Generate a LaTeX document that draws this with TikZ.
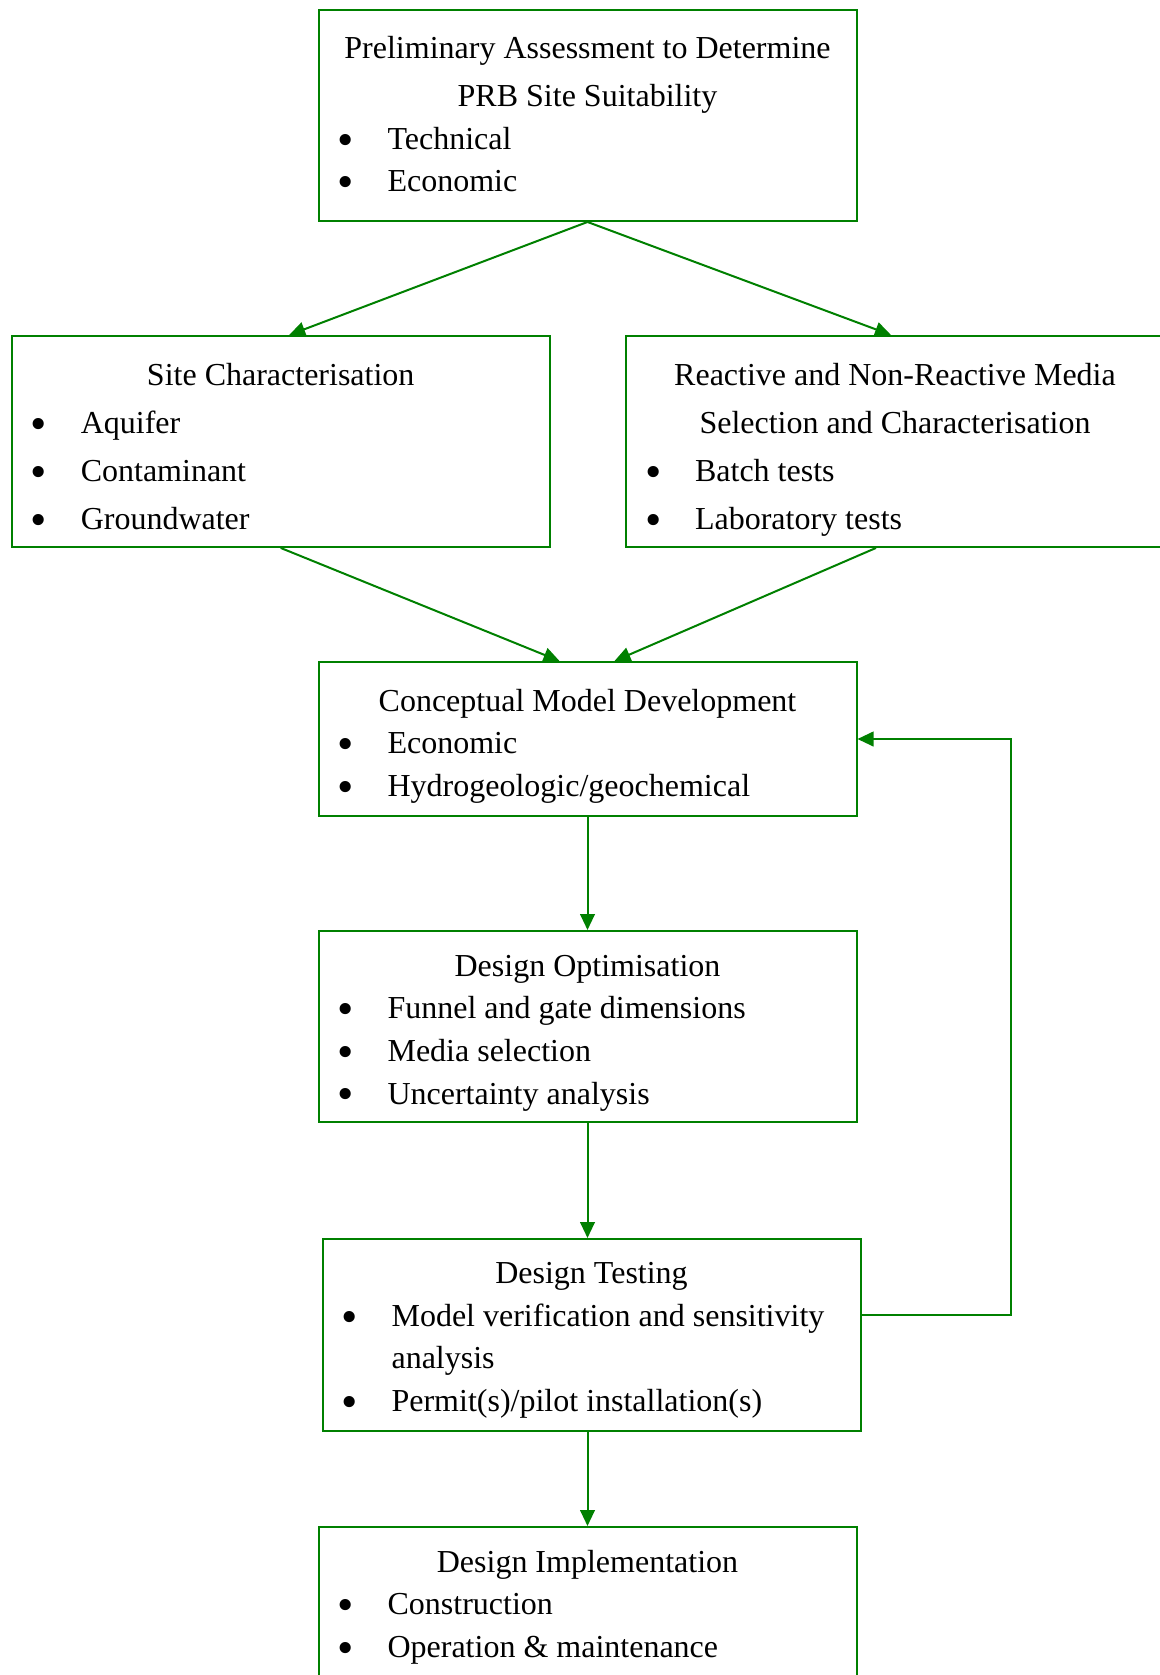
\documentclass[tikz,border=0pt]{standalone}
\usepackage{fontspec}
\setmainfont{Liberation Serif}
\usetikzlibrary{arrows.meta,calc,positioning}
\definecolor{prbgreen}{RGB}{0,128,0}
\newcommand{\bul}[1]{\par\noindent\hspace*{10.3pt}\makebox[0pt]{\raisebox{-2.2pt}{\fontsize{17.5}{16}\selectfont\textbullet}}\hspace*{15.6pt}#1}
\newcommand{\stagetext}[3]{\parbox[c][#1][t]{201.75pt}{\raggedright\rule{0pt}{#2}#3}}
\tikzset{
    stage/.style={draw=prbgreen, line width=0.75pt, inner sep=0pt, anchor=north west,
        font=\fontsize{12}{16}\selectfont},
    flow/.style={draw=prbgreen, line width=0.75pt, -{Triangle[length=6pt,width=5.5pt]}}
}

\begin{document}
\begin{tikzpicture}[x=0.375pt, y=-0.375pt]
            \clip (0,0) rectangle (1160,1675);
            \node[stage] (prelim) at (317.5,8.5)
                {\stagetext{79.3pt}{18.4pt}{\baselineskip=18pt{\centering Preliminary Assessment to Determine\\PRB Site Suitability\par}\baselineskip=16pt\bul{Technical}\bul{Economic}}};
            \node[stage] (sitechar) at (10.7,335)
                {\stagetext{79.1pt}{18.5pt}{\baselineskip=18pt{\centering Site Characterisation\par}\bul{Aquifer}\bul{Contaminant}\bul{Groundwater}}};
            \node[stage] (media) at (625,335)
                {\stagetext{79.1pt}{18.5pt}{\baselineskip=18pt{\centering Reactive and Non-Reactive Media\\Selection and Characterisation\par}\bul{Batch tests}\bul{Laboratory tests}}};
            \node[stage] (concept) at (317.5,661)
                {\stagetext{57.75pt}{18.4pt}{{\centering Conceptual Model Development\par}\bul{Economic}\bul{Hydrogeologic/geochemical}}};
            \node[stage] (optim) at (317.5,930)
                {\stagetext{71.8pt}{16.9pt}{{\centering Design Optimisation\par}\bul{Funnel and gate dimensions}\bul{Media selection}\bul{Uncertainty analysis}}};
            \node[stage] (testing) at (321.5,1238)
                {\stagetext{72pt}{16.7pt}{{\centering Design Testing\par}\bul{Model verification and sensitivity}\par\hspace*{25.9pt}analysis\bul{Permit(s)/pilot installation(s)}}};
            \node[stage] (implement) at (317.5,1526)
                {\stagetext{65.6pt}{16.9pt}{{\centering Design Implementation\par}\bul{Construction}\bul{Operation \& maintenance}}};

            \draw[flow] (prelim.south) -- ($(sitechar.north)+(8.5,0)$);
            \draw[flow] (prelim.south) -- ($(media.north)+(-4,0)$);
            \draw[flow] (sitechar.south) -- ($(concept.north)+(-28,0)$);
            \draw[flow] ($(media.south)+(-19,0)$) -- ($(concept.north)+(27,0)$);
            \draw[flow] (concept.south) -- (optim.north);
            \draw[flow] (optim.south) -- (optim.south |- testing.north);
            \draw[flow] (implement.north |- testing.south) -- (implement.north);
            \draw[flow] ($(testing.east)+(0,-20)$) -- ++(149.5,0) |- (concept.east);
        \end{tikzpicture}
\end{document}
